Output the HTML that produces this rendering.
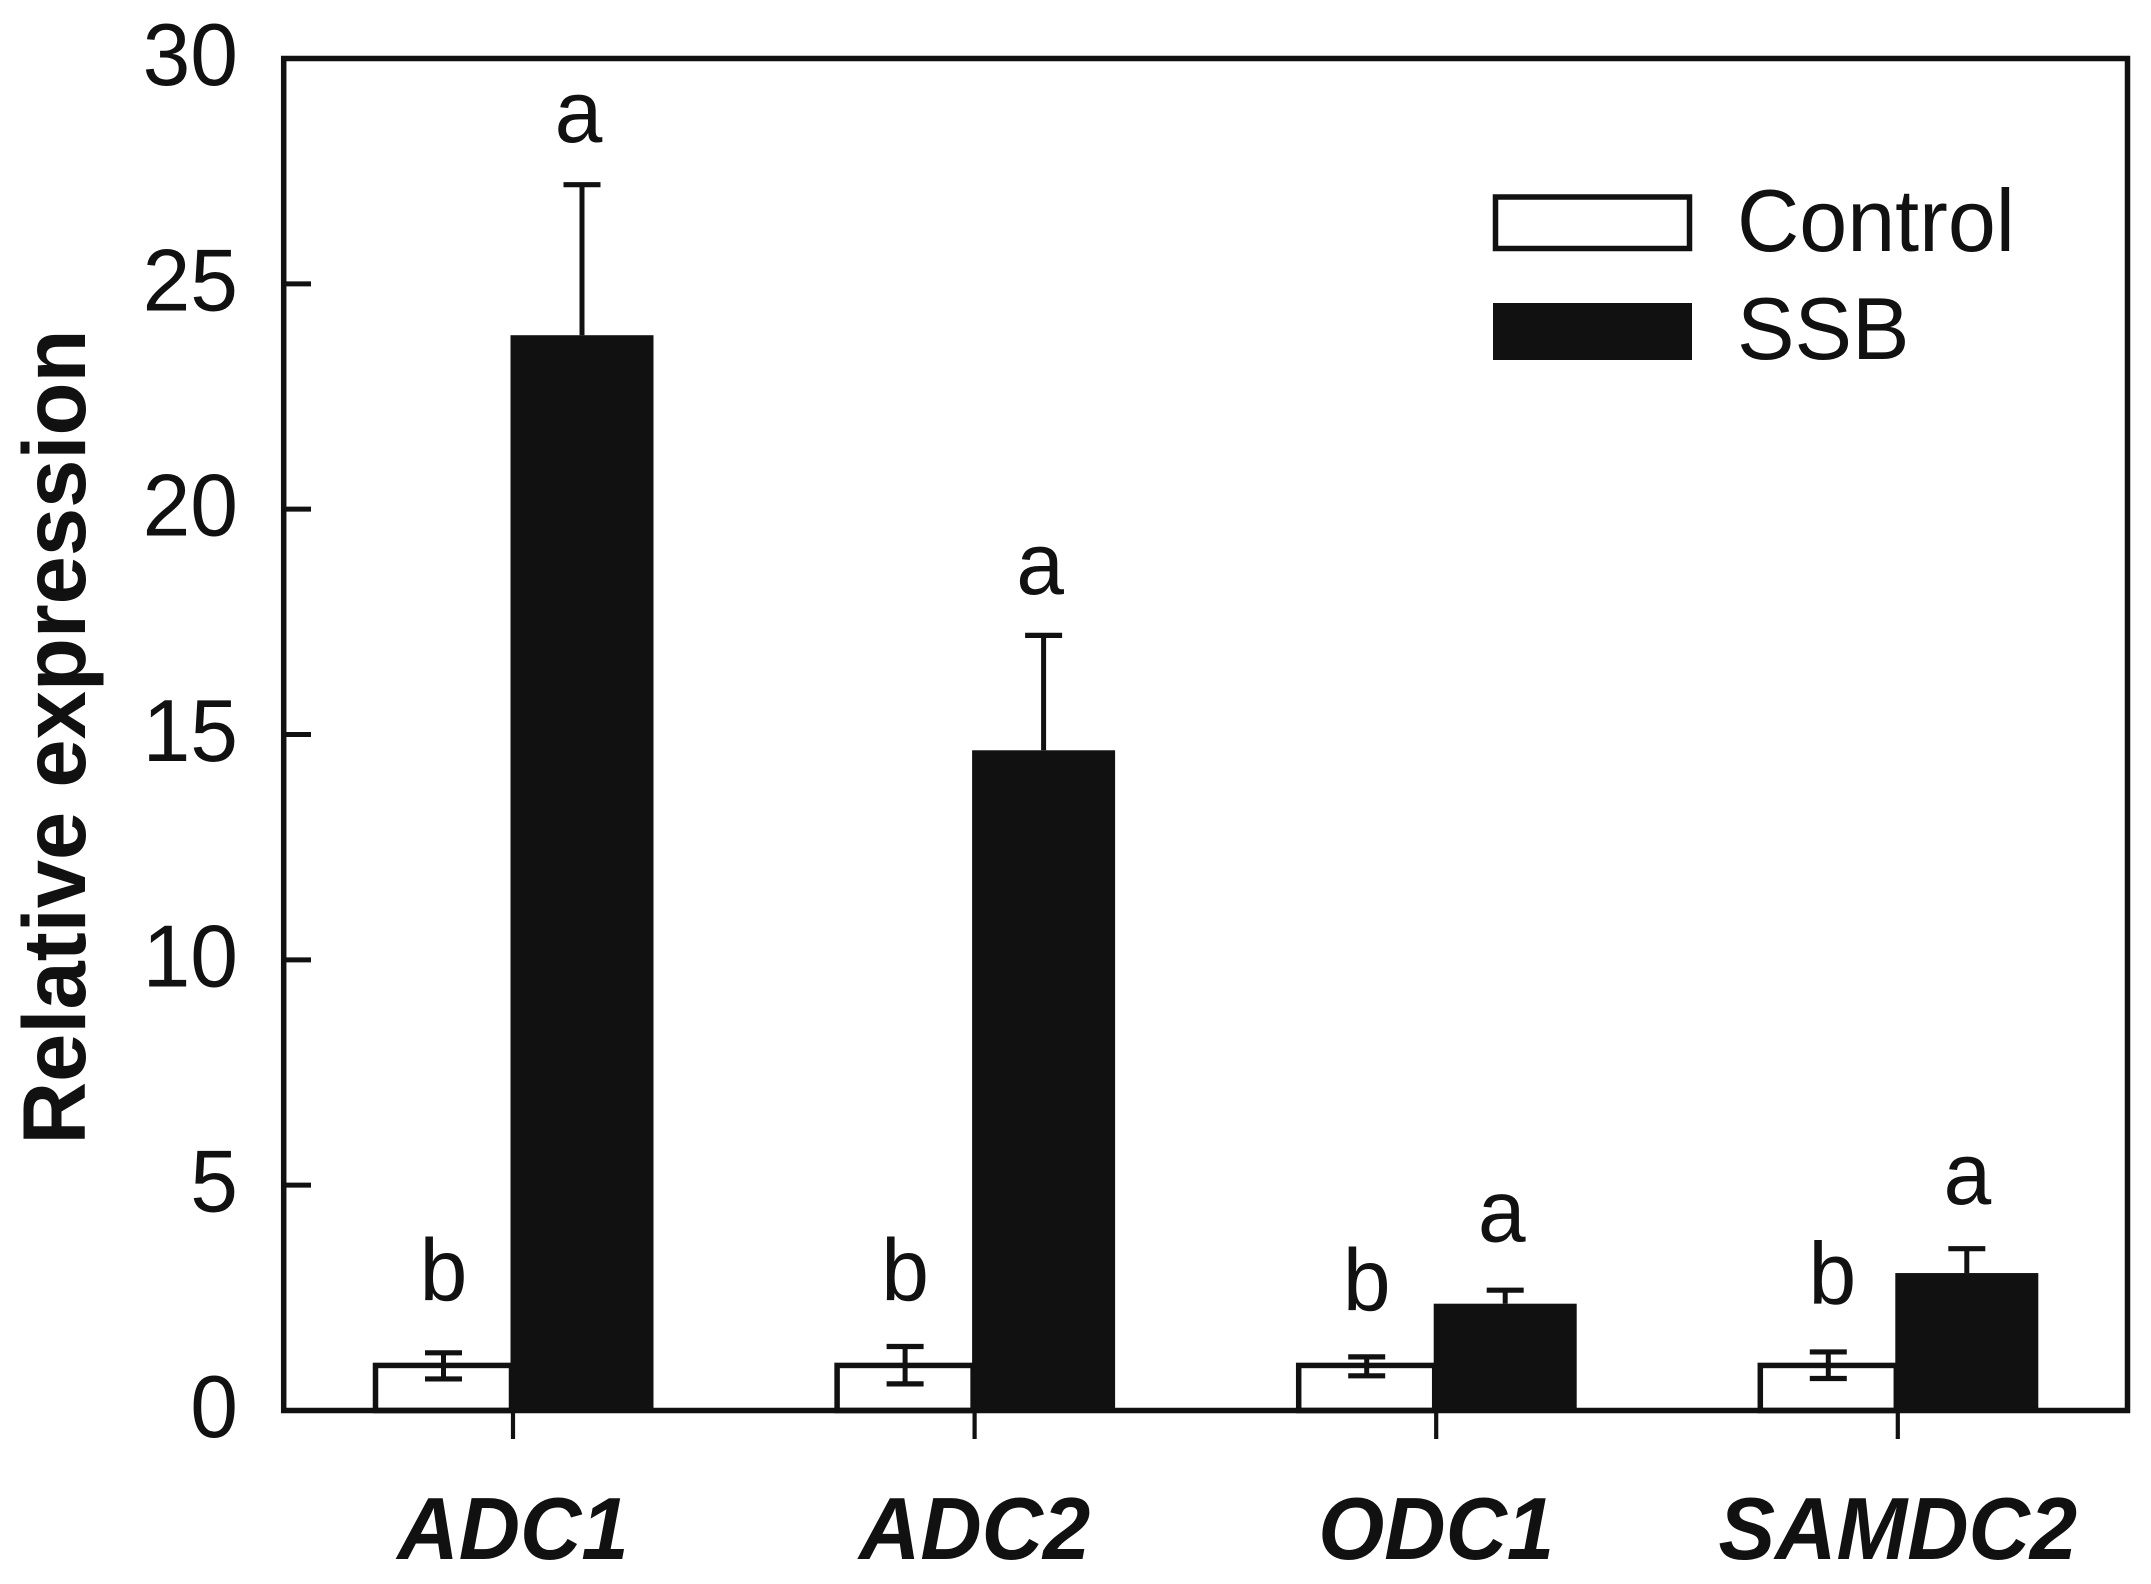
<!DOCTYPE html>
<html lang="en">
<head>
<meta charset="utf-8">
<title>Relative expression bar chart</title>
<style>
html,body{margin:0;padding:0;background:#fff;}
svg{display:block;font-family:"Liberation Sans",Arial,sans-serif;}
text{fill:#111;}
</style>
</head>
<body>
<svg id="chart" xmlns="http://www.w3.org/2000/svg" width="2151" height="1584" viewBox="0 0 2151 1584">
  <rect x="0" y="0" width="2151" height="1584" fill="#fff"/>
  <g id="bars"></g>
  <rect x="283.7" y="58.5" width="1843.8" height="1352" fill="none" stroke="#111" stroke-width="5.5"/>
  <g id="axes"></g>
  <text transform="translate(85,737) rotate(-90) scale(0.975,1)" text-anchor="middle" font-size="89" font-weight="bold">Relative expression</text>
  <g>
    <g>
      <rect x="1495.5" y="197" width="194" height="51.5" fill="#fff" stroke="#111" stroke-width="5.5"/>
      <text transform="translate(1737,251) scale(0.98,1)" font-size="88">Control</text>
    </g>
    <g>
      <rect x="1493" y="303" width="199" height="57" fill="#111"/>
      <text transform="translate(1737,359) scale(0.98,1)" font-size="88">SSB</text>
    </g>
  </g>
</svg>
<script>
const categories = ['ADC1', 'ADC2', 'ODC1', 'SAMDC2'];
const controlValues = [1, 1, 1, 1];
const controlErrorHigh = [1.28, 1.42, 1.19, 1.30];
const controlErrorLow = [0.70, 0.59, 0.77, 0.71];
const ssbValues = [23.86, 14.65, 2.37, 3.05];
const ssbErrorHigh = [27.2, 17.2, 2.67, 3.59];
const controlLetters = ['b', 'b', 'b', 'b'];
const ssbLetters = ['a', 'a', 'a', 'a'];
const controlLetterLevels = [2.44, 2.44, 2.22, 2.36];
const ssbLetterLevels = [28.15, 18.12, 3.75, 4.58];
const yTickLabels = [0, 5, 10, 15, 20, 25, 30];

const NS = 'http://www.w3.org/2000/svg';
const INK = '#111';
const yScale = function (v) { return 1410.5 - v * (1352 / 30); };
const groupX = function (i) { return 513 + i * 461.6; };
const controlX = function (i) { return groupX(i) - 69.5; };
const ssbX = function (i) { return groupX(i) + 69; };
const barsLayer = document.getElementById('bars');
const axesLayer = document.getElementById('axes');

function svgEl(tag, attrs, parent) {
  const el = document.createElementNS(NS, tag);
  Object.keys(attrs).forEach(function (k) { el.setAttribute(k, attrs[k]); });
  parent.appendChild(el);
  return el;
}

function errorBar(cx, top, bottom, parent, label) {
  const stem = svgEl('line', { x1: cx, x2: cx, y1: yScale(top), y2: yScale(bottom), stroke: INK, 'stroke-width': 5 }, parent);
  
  
  const cap = svgEl('line', { x1: cx - 18.5, x2: cx + 18.5, y1: yScale(top), y2: yScale(top), stroke: INK, 'stroke-width': 5.2 }, parent);
  
  
}

categories.forEach(function (name, i) {
  const key = name.toLowerCase();
  const group = svgEl('g', {}, barsLayer);
  
  

  const controlBar = svgEl('rect', {
    x: controlX(i) - 68, y: yScale(controlValues[i]), width: 136,
    height: yScale(0) - yScale(controlValues[i]),
    fill: '#fff', stroke: INK, 'stroke-width': 5.5
  }, group);
  
  

  errorBar(controlX(i), controlErrorHigh[i], controlErrorLow[i], group, 'error-control-' + key);
  const lowCap = svgEl('line', {
    x1: controlX(i) - 18.5, x2: controlX(i) + 18.5,
    y1: yScale(controlErrorLow[i]), y2: yScale(controlErrorLow[i]),
    stroke: INK, 'stroke-width': 5.2
  }, group);
  
  

  errorBar(ssbX(i), ssbErrorHigh[i], ssbValues[i], group, 'error-ssb-' + key);
  const ssbBar = svgEl('rect', {
    x: ssbX(i) - 71.5, y: yScale(ssbValues[i]), width: 143,
    height: yScale(0) - yScale(ssbValues[i]),
    fill: INK
  }, group);
  
  

  const lastGroupNudge = i === 3 ? 4 : 0;
  const controlLetter = svgEl('text', {
    transform: 'translate(' + (controlX(i) + lastGroupNudge) + ',' + yScale(controlLetterLevels[i]) + ') scale(0.975,1)',
    'text-anchor': 'middle', 'font-size': 88
  }, group);
  controlLetter.textContent = controlLetters[i];
  
  

  const ssbLetter = svgEl('text', {
    transform: 'translate(' + (ssbX(i) - 3.5 + lastGroupNudge) + ',' + yScale(ssbLetterLevels[i]) + ') scale(0.975,1)',
    'text-anchor': 'middle', 'font-size': 88
  }, group);
  ssbLetter.textContent = ssbLetters[i];
  
  

  const xTick = svgEl('line', {
    x1: groupX(i), x2: groupX(i), y1: yScale(0), y2: 1439, stroke: INK, 'stroke-width': 4.2
  }, axesLayer);
  
  

  const xLabel = svgEl('text', {
    transform: 'translate(' + groupX(i) + ',1559) scale(0.965,1)',
    'text-anchor': 'middle', 'font-size': 88,
    'font-weight': 'bold', 'font-style': 'italic'
  }, axesLayer);
  xLabel.textContent = name;
  
  
});

yTickLabels.forEach(function (v) {
  const yTick = svgEl('line', {
    x1: 283.7, x2: 311, y1: yScale(v), y2: yScale(v), stroke: INK, 'stroke-width': 5
  }, axesLayer);
  
  

  const yLabel = svgEl('text', {
    transform: 'translate(238,' + (yScale(v) + 26.5) + ') scale(0.975,1)',
    'text-anchor': 'end', 'font-size': 88
  }, axesLayer);
  yLabel.textContent = String(v);
  
  
});
</script>
</body>
</html>
